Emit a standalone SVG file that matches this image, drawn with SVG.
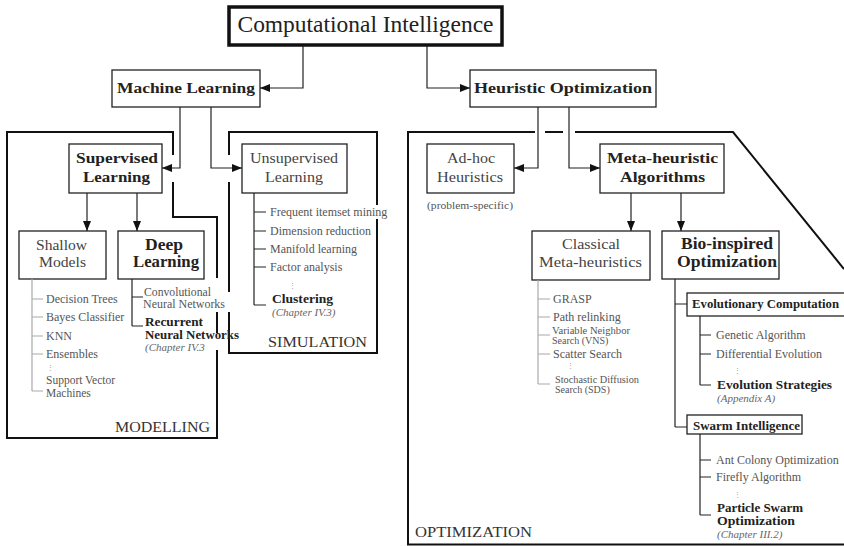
<svg xmlns="http://www.w3.org/2000/svg" width="844" height="546" viewBox="0 0 844 546">
  <style>
    text { font-family: "Liberation Serif", "DejaVu Serif", serif; }
    .box { fill: #fff; stroke: #222; stroke-width: 1.3; }
    .root { fill: #fff; stroke: #111; stroke-width: 3.5; }
    .region { fill: none; stroke: #111; stroke-width: 2; }
    .conn { fill: none; stroke: #222; stroke-width: 1.2; }
    .tree { fill: none; stroke: #222; stroke-width: 1.2; }
    .tree-light { fill: none; stroke: #aaa; stroke-width: 1.2; }
    .lbl { font-size: 15px; fill: #222; text-anchor: middle; }
    .big { font-size: 16px; }
    .bold { font-weight: bold; }
    .grey { fill: #444; }
    .item { font-size: 12px; fill: #555; }
    .small { font-size: 10px; }
    .item-b { font-size: 12px; font-weight: bold; fill: #222; }
    .cite { font-size: 11px; font-style: italic; fill: #666; }
    .dots { font-size: 7px; fill: #999; }
    .area { font-size: 15px; fill: #333; }
  </style>
  <defs>
    <marker id="head" viewBox="0 0 10 8" markerWidth="10" markerHeight="8" refX="10" refY="4" orient="auto" markerUnits="userSpaceOnUse">
      <path d="M0,0 L10,4 L0,8 z" fill="#111"/>
    </marker>
  </defs>

  <rect width="844" height="546" fill="#fff"/>

  <!-- area outlines (broken where connectors and labels pass) -->
  <g id="areas">
    <path class="region" d="M173,155 V132 H7 V438 H217 V350"/>
    <path class="region" d="M217,333 V312"/>
    <path class="region" d="M217,278 V217 H173 V182"/>
    <path class="region" d="M229,155 V132 H377 V205"/>
    <path class="region" d="M377,219 V353 H229 V312"/>
    <path class="region" d="M229,292 V182"/>
    <path class="region" d="M535,132 H408 V544.5 H844"/>
    <path class="region" d="M545,132 H563"/>
    <path class="region" d="M575,132 H733 L844,269"/>
    <text class="area" x="115" y="432" textLength="95" lengthAdjust="spacingAndGlyphs">MODELLING</text>
    <text class="area" x="268" y="347" textLength="99" lengthAdjust="spacingAndGlyphs">SIMULATION</text>
    <text class="area" x="415" y="537" textLength="117" lengthAdjust="spacingAndGlyphs">OPTIMIZATION</text>
  </g>

  <!-- connectors -->
  <g id="connectors">
    <path class="conn" d="M303,45 V88 H260" marker-end="url(#head)"/>
    <path class="conn" d="M427,45 V88 H470" marker-end="url(#head)"/>
    <path class="conn" d="M180,107 V168 H162" marker-end="url(#head)"/>
    <path class="conn" d="M211,107 V168 H242" marker-end="url(#head)"/>
    <path class="conn" d="M538,107 V168 H514" marker-end="url(#head)"/>
    <path class="conn" d="M569,107 V168 H600" marker-end="url(#head)"/>
    <path class="conn" d="M87,193 V231" marker-end="url(#head)"/>
    <path class="conn" d="M137,193 V231" marker-end="url(#head)"/>
    <path class="conn" d="M631,193 V231" marker-end="url(#head)"/>
    <path class="conn" d="M681,193 V231" marker-end="url(#head)"/>
  </g>

  <g id="computational-intelligence">
    <rect class="root" x="229" y="7" width="273" height="38"/>
    <text class="lbl" x="365.5" y="32" style="font-size:24px" textLength="256" lengthAdjust="spacingAndGlyphs">Computational Intelligence</text>
  </g>

  <g id="machine-learning">
    <rect class="box" x="112" y="70" width="148" height="37"/>
    <text class="lbl bold" x="186" y="93" textLength="138" lengthAdjust="spacingAndGlyphs">Machine Learning</text>
  </g>

  <g id="heuristic-optimization">
    <rect class="box" x="470" y="70" width="186" height="37"/>
    <text class="lbl bold" x="563" y="93" textLength="178" lengthAdjust="spacingAndGlyphs">Heuristic Optimization</text>
  </g>

  <g id="supervised">
    <rect class="box" x="69" y="144" width="93" height="49"/>
    <text class="lbl bold" x="117" y="163" textLength="82" lengthAdjust="spacingAndGlyphs">Supervised</text>
    <text class="lbl bold" x="116.5" y="182" textLength="67" lengthAdjust="spacingAndGlyphs">Learning</text>
  </g>

  <g id="unsupervised">
    <rect class="box" x="242" y="144" width="105" height="49"/>
    <text class="lbl grey" x="294" y="163" textLength="88" lengthAdjust="spacingAndGlyphs">Unsupervised</text>
    <text class="lbl grey" x="294" y="182" textLength="58" lengthAdjust="spacingAndGlyphs">Learning</text>
    <path class="tree" d="M254,193 V305 M254,212 H266 M254,231 H266 M254,249 H266 M254,267 H266 M254,305 H266"/>
    <text class="item" x="270" y="216">Frequent itemset mining</text>
    <text class="item" x="270" y="235">Dimension reduction</text>
    <text class="item" x="270" y="253">Manifold learning</text>
    <text class="item" x="270" y="271">Factor analysis</text>
    <text class="dots" x="289" y="288">⋮</text>
    <text class="item-b" x="272" y="303" textLength="61" lengthAdjust="spacingAndGlyphs">Clustering</text>
    <text class="cite" x="272" y="316">(Chapter IV.3)</text>
  </g>

  <g id="shallow-models">
    <rect class="box" x="19" y="231" width="87" height="48"/>
    <text class="lbl grey" x="61.5" y="250" textLength="51" lengthAdjust="spacingAndGlyphs">Shallow</text>
    <text class="lbl grey" x="62.5" y="267" textLength="47" lengthAdjust="spacingAndGlyphs">Models</text>
    <path class="tree-light" d="M32,279 V391 M32,299 H43 M32,317 H43 M32,336 H43 M32,354 H43 M32,391 H43"/>
    <text class="item" x="46" y="303">Decision Trees</text>
    <text class="item" x="46" y="321">Bayes Classifier</text>
    <text class="item" x="46" y="340">KNN</text>
    <text class="item" x="46" y="358">Ensembles</text>
    <text class="dots" x="47" y="370">⋮</text>
    <text class="item" x="46" y="384" style="font-size:11.5px">Support Vector</text>
    <text class="item" x="46" y="396.5" style="font-size:11.5px">Machines</text>
  </g>

  <g id="deep-learning">
    <rect class="box" x="118" y="231" width="86" height="48"/>
    <text class="lbl big bold" x="164" y="250" textLength="38" lengthAdjust="spacingAndGlyphs">Deep</text>
    <text class="lbl big bold" x="166" y="267" textLength="66" lengthAdjust="spacingAndGlyphs">Learning</text>
    <path class="tree" d="M132,279 V326 M132,297 H143 M132,326 H143"/>
    <text class="item" x="144" y="296" style="font-size:11.5px" textLength="67" lengthAdjust="spacingAndGlyphs">Convolutional</text>
    <text class="item" x="143" y="307.5" style="font-size:11.5px" textLength="82" lengthAdjust="spacingAndGlyphs">Neural Networks</text>
    <text class="item-b" x="145" y="326" textLength="58" lengthAdjust="spacingAndGlyphs">Recurrent</text>
    <text class="item-b" x="145" y="338.5" textLength="94" lengthAdjust="spacingAndGlyphs">Neural Networks</text>
    <text class="cite" x="145" y="351">(Chapter IV.3</text>
  </g>

  <g id="ad-hoc-heuristics">
    <rect class="box" x="427" y="144" width="87" height="49"/>
    <text class="lbl grey" x="471" y="163" textLength="48" lengthAdjust="spacingAndGlyphs">Ad-hoc</text>
    <text class="lbl grey" x="470" y="182" textLength="66" lengthAdjust="spacingAndGlyphs">Heuristics</text>
    <text class="item" x="427" y="209" style="font-size:11px" textLength="86" lengthAdjust="spacingAndGlyphs">(problem-specific)</text>
  </g>

  <g id="meta-heuristic-algorithms">
    <rect class="box" x="600" y="144" width="124" height="49"/>
    <text class="lbl bold" x="662.5" y="163" textLength="111" lengthAdjust="spacingAndGlyphs">Meta-heuristic</text>
    <text class="lbl bold" x="662.5" y="182" textLength="85" lengthAdjust="spacingAndGlyphs">Algorithms</text>
  </g>

  <g id="classical-meta-heuristics">
    <rect class="box" x="532" y="231" width="118" height="49"/>
    <text class="lbl grey" x="591" y="249" textLength="58" lengthAdjust="spacingAndGlyphs">Classical</text>
    <text class="lbl grey" x="590.5" y="267" textLength="103" lengthAdjust="spacingAndGlyphs">Meta-heuristics</text>
    <path class="tree-light" d="M538,280 V384 M538,299 H550 M538,317 H550 M538,335 H550 M538,354 H550 M538,384 H550"/>
    <text class="item" x="553" y="303">GRASP</text>
    <text class="item" x="553" y="321">Path relinking</text>
    <text class="item small" x="552" y="334" textLength="78" lengthAdjust="spacingAndGlyphs">Variable Neighbor</text>
    <text class="item small" x="552" y="344">Search (VNS)</text>
    <text class="item" x="553" y="358">Scatter Search</text>
    <text class="dots" x="567" y="368">⋮</text>
    <text class="item small" x="555" y="382.5" textLength="84" lengthAdjust="spacingAndGlyphs">Stochastic Diffusion</text>
    <text class="item small" x="555" y="392.5">Search (SDS)</text>
  </g>

  <g id="bio-inspired-optimization">
    <rect class="box" x="662" y="231" width="117" height="48"/>
    <text class="lbl big bold" x="727" y="249" textLength="92" lengthAdjust="spacingAndGlyphs">Bio-inspired</text>
    <text class="lbl big bold" x="727" y="267" textLength="100" lengthAdjust="spacingAndGlyphs">Optimization</text>
    <path class="tree" d="M675,279 V427 M675,304 H687 M675,427 H687"/>
  </g>

  <g id="evolutionary-computation">
    <rect class="box" x="687" y="293" width="170" height="23"/>
    <text class="item-b" x="692" y="308" style="font-size:13px" textLength="147" lengthAdjust="spacingAndGlyphs">Evolutionary Computation</text>
    <path class="tree" d="M700,316 V385 M700,335 H711 M700,354 H711 M700,385 H711"/>
    <text class="item" x="716" y="339">Genetic Algorithm</text>
    <text class="item" x="716" y="358">Differential Evolution</text>
    <text class="dots" x="734" y="373">⋮</text>
    <text class="item-b" x="717" y="389" textLength="115" lengthAdjust="spacingAndGlyphs">Evolution Strategies</text>
    <text class="cite" x="717" y="402">(Appendix A)</text>
  </g>

  <g id="swarm-intelligence">
    <rect class="box" x="687" y="415" width="115" height="19"/>
    <text class="item-b" x="693" y="430" style="font-size:13px" textLength="107" lengthAdjust="spacingAndGlyphs">Swarm Intelligence</text>
    <path class="tree" d="M700,434 V515 M700,460 H711 M700,477 H711 M700,515 H711"/>
    <text class="item" x="716" y="464">Ant Colony Optimization</text>
    <text class="item" x="716" y="481">Firefly Algorithm</text>
    <text class="dots" x="734" y="497">⋮</text>
    <text class="item-b" x="717" y="511.5" style="font-size:11.5px" textLength="86" lengthAdjust="spacingAndGlyphs">Particle Swarm</text>
    <text class="item-b" x="717" y="524.5" style="font-size:11.5px" textLength="78" lengthAdjust="spacingAndGlyphs">Optimization</text>
    <text class="cite" x="717" y="537.5">(Chapter III.2)</text>
  </g>
</svg>
